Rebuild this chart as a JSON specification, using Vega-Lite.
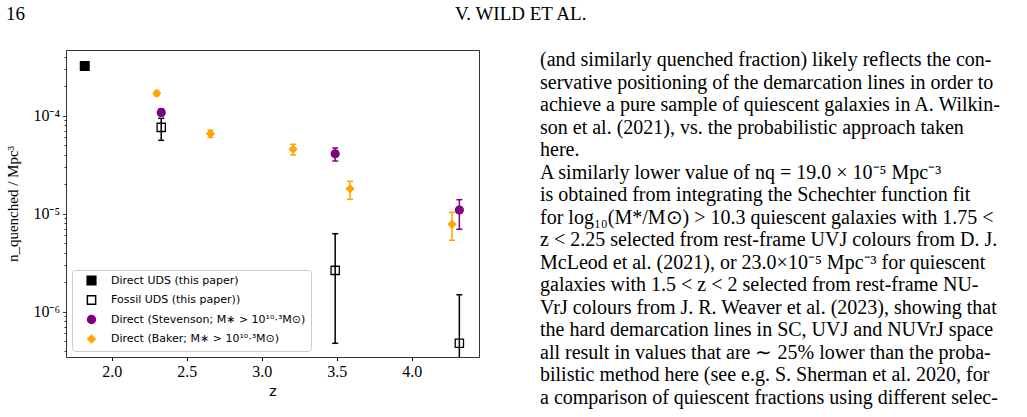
{
  "$schema": "https://vega.github.io/schema/vega-lite/v6.json",
  "background": "white",
  "padding": {"left": 5, "top": 4, "right": 0, "bottom": 0},
  "config": {"view": {"stroke": null}},
  "spacing": -25,
  "resolve": {
    "scale": {"color": "independent", "shape": "independent", "fill": "independent", "stroke": "independent", "size": "independent"},
    "legend": {"color": "independent", "shape": "independent", "fill": "independent", "stroke": "independent", "size": "independent"}
  },
  "hconcat": [
    {
      "width": 413,
      "height": 307,
      "title": {"text": "16", "anchor": "start", "frame": "bounds", "font": "Liberation Serif", "fontSize": 19, "fontWeight": "normal", "color": "black", "offset": 26},
      "view": {"stroke": "#333333", "strokeWidth": 1},
      "data": {"values": [
        {"series": "Direct UDS", "z": 1.82, "n": 0.000321},
        {"series": "Fossil UDS", "z": 2.33, "n": 0.000076, "lo": 0.000056, "hi": 0.000094},
        {"series": "Fossil UDS", "z": 3.49, "n": 0.00000264, "lo": 0.000000476, "hi": 0.00000625},
        {"series": "Fossil UDS", "z": 4.318, "n": 0.000000476, "lo": 0.0000001, "hi": 0.00000149},
        {"series": "Stevenson", "z": 2.33, "n": 0.000108, "lo": 0.0001, "hi": 0.000117},
        {"series": "Stevenson", "z": 3.49, "n": 0.0000409, "lo": 0.0000345, "hi": 0.0000468},
        {"series": "Stevenson", "z": 4.318, "n": 0.0000109, "lo": 0.00000693, "hi": 0.0000139},
        {"series": "Baker", "z": 2.30, "n": 0.000169, "lo": 0.00016, "hi": 0.000178},
        {"series": "Baker", "z": 2.658, "n": 0.0000655, "lo": 0.00006, "hi": 0.000071},
        {"series": "Baker", "z": 3.209, "n": 0.0000454, "lo": 0.0000397, "hi": 0.0000511},
        {"series": "Baker", "z": 3.589, "n": 0.000018, "lo": 0.000014, "hi": 0.0000214},
        {"series": "Baker", "z": 4.269, "n": 0.0000078, "lo": 0.00000536, "hi": 0.0000103}
      ]},
      "encoding": {
        "x": {
          "field": "z", "type": "quantitative",
          "scale": {"domain": [1.695, 4.449], "nice": false, "zero": false},
          "axis": {
            "values": [2.0, 2.5, 3.0, 3.5, 4.0], "format": ".1f", "grid": false, "domain": false,
            "tickSize": 3.5, "tickColor": "black", "tickWidth": 1,
            "labelFont": "Liberation Serif", "labelFontSize": 16, "labelColor": "black", "labelPadding": 3,
            "title": "z", "titleFont": "DejaVu Sans", "titleFontSize": 14, "titleFontWeight": "normal", "titleColor": "black", "titlePadding": 5
          }
        }
      },
      "layer": [
        {
          "transform": [{"filter": "isValid(datum.lo)"}],
          "mark": {"type": "rule", "strokeWidth": 1.5, "clip": true},
          "encoding": {
            "y": {"field": "lo", "type": "quantitative", "scale": {"type": "log", "domain": [3.45e-7, 4.68e-4], "nice": false}, "title": "n_quenched / Mpc³"},
            "y2": {"field": "hi"},
            "color": {"field": "series", "type": "nominal", "scale": {"domain": ["Fossil UDS", "Stevenson", "Baker"], "range": ["black", "#800080", "#FFA500"]}, "legend": null}
          }
        },
        {
          "transform": [{"filter": "isValid(datum.lo)"}],
          "mark": {"type": "tick", "orient": "horizontal", "thickness": 1.5, "size": 6, "clip": true, "opacity": 1},
          "encoding": {
            "y": {"field": "lo", "type": "quantitative", "scale": {"type": "log", "domain": [3.45e-7, 4.68e-4], "nice": false}, "title": "n_quenched / Mpc³"},
            "color": {"field": "series", "type": "nominal", "scale": {"domain": ["Fossil UDS", "Stevenson", "Baker"], "range": ["black", "#800080", "#FFA500"]}, "legend": null}
          }
        },
        {
          "transform": [{"filter": "isValid(datum.hi)"}],
          "mark": {"type": "tick", "orient": "horizontal", "thickness": 1.5, "size": 6, "clip": true, "opacity": 1},
          "encoding": {
            "y": {"field": "hi", "type": "quantitative", "scale": {"type": "log", "domain": [3.45e-7, 4.68e-4], "nice": false}, "title": "n_quenched / Mpc³"},
            "color": {"field": "series", "type": "nominal", "scale": {"domain": ["Fossil UDS", "Stevenson", "Baker"], "range": ["black", "#800080", "#FFA500"]}, "legend": null}
          }
        },
        {
          "mark": {"type": "point", "opacity": 1, "strokeWidth": 1.3},
          "encoding": {
            "y": {
              "field": "n", "type": "quantitative",
              "scale": {"type": "log", "domain": [3.45e-7, 4.68e-4], "nice": false},
              "title": "n_quenched / Mpc³",
              "axis": {
                "values": [4e-7, 5e-7, 6e-7, 7e-7, 8e-7, 9e-7, 1e-6, 2e-6, 3e-6, 4e-6, 5e-6, 6e-6, 7e-6, 8e-6, 9e-6, 1e-5, 2e-5, 3e-5, 4e-5, 5e-5, 6e-5, 7e-5, 8e-5, 9e-5, 1e-4, 2e-4, 3e-4, 4e-4],
                "labelExpr": "datum.value == 1e-4 ? '10⁻⁴' : datum.value == 1e-5 ? '10⁻⁵' : datum.value == 1e-6 ? '10⁻⁶' : ''",
                "tickSize": {"condition": {"test": "datum.value == 1e-4 || datum.value == 1e-5 || datum.value == 1e-6", "value": 3.5}, "value": 2},
                "grid": false, "domain": false, "tickColor": "black", "tickWidth": 0.8,
                "labelFont": "Liberation Serif", "labelFontSize": 16, "labelColor": "black", "labelPadding": 3,
                "titleFont": "Liberation Serif", "titleFontSize": 15, "titleFontWeight": "normal", "titleColor": "black", "titlePadding": 12
              }
            },
            "shape": {"field": "series", "type": "nominal", "scale": {"domain": ["Direct UDS", "Fossil UDS", "Stevenson", "Baker"], "range": ["square", "square", "circle", "diamond"]},
              "legend": {
                "orient": "bottom-left", "offset": 6, "title": null,
                "labelExpr": "datum.value == 'Direct UDS' ? 'Direct UDS (this paper)' : datum.value == 'Fossil UDS' ? 'Fossil UDS (this paper))' : datum.value == 'Stevenson' ? 'Direct (Stevenson; M∗ > 10¹⁰·³M⊙)' : 'Direct (Baker; M∗ > 10¹⁰·³M⊙)'",
                "labelFont": "DejaVu Sans", "labelFontSize": 11, "labelColor": "black", "labelLimit": 400,
                "strokeColor": "#cccccc", "fillColor": "rgba(255,255,255,0.8)", "cornerRadius": 3,
                "padding": 5, "rowPadding": 4.5, "symbolOffset": 9, "labelOffset": 14
              }
            },
            "fill": {"field": "series", "type": "nominal", "scale": {"domain": ["Direct UDS", "Fossil UDS", "Stevenson", "Baker"], "range": ["black", "transparent", "#800080", "#FFA500"]}},
            "stroke": {"field": "series", "type": "nominal", "scale": {"domain": ["Direct UDS", "Fossil UDS", "Stevenson", "Baker"], "range": ["black", "black", "#800080", "#FFA500"]}},
            "size": {"field": "series", "type": "nominal", "scale": {"domain": ["Direct UDS", "Fossil UDS", "Stevenson", "Baker"], "range": [75, 55, 60, 75]}}
          }
        }
      ]
    },
    {
      "width": 490,
      "height": 360,
      "title": {"text": "V. WILD ET AL.", "anchor": "start", "frame": "group", "dx": -85, "font": "Liberation Serif", "fontSize": 19, "fontWeight": "normal", "color": "black", "offset": 26},
      "view": {"stroke": null},
      "data": {"values": [
        {"line": 0, "t": "(and similarly quenched fraction) likely reflects the con-"},
        {"line": 1, "t": "servative positioning of the demarcation lines in order to"},
        {"line": 2, "t": "achieve a pure sample of quiescent galaxies in A. Wilkin-"},
        {"line": 3, "t": "son et al. (2021), vs.  the probabilistic approach taken"},
        {"line": 4, "t": "here."},
        {"line": 5, "t": "\u2003A similarly lower value of nq = 19.0 × 10⁻⁵ Mpc⁻³"},
        {"line": 6, "t": "is obtained from integrating the Schechter function fit"},
        {"line": 7, "t": "for log₁₀(M*/M⊙) > 10.3 quiescent galaxies with 1.75 <"},
        {"line": 8, "t": "z < 2.25 selected from rest-frame UVJ colours from D. J."},
        {"line": 9, "t": "McLeod et al. (2021), or 23.0×10⁻⁵ Mpc⁻³ for quiescent"},
        {"line": 10, "t": "galaxies with 1.5 < z < 2 selected from rest-frame NU-"},
        {"line": 11, "t": "VrJ colours from J. R. Weaver et al. (2023), showing that"},
        {"line": 12, "t": "the hard demarcation lines in SC, UVJ and NUVrJ space"},
        {"line": 13, "t": "all result in values that are ∼ 25% lower than the proba-"},
        {"line": 14, "t": "bilistic method here (see e.g. S. Sherman et al. 2020, for"},
        {"line": 15, "t": "a comparison of quiescent fractions using different selec-"}
      ]},
      "mark": {"type": "text", "align": "left", "baseline": "middle", "font": "Liberation Serif", "fontSize": 20, "color": "black"},
      "encoding": {
        "x": {"datum": 0, "type": "quantitative", "scale": {"domain": [0, 1]}, "axis": null},
        "y": {"field": "line", "type": "quantitative", "scale": {"domain": [-0.45, 15.55], "reverse": true, "nice": false, "zero": false}, "axis": null},
        "text": {"field": "t"}
      }
    }
  ]
}
